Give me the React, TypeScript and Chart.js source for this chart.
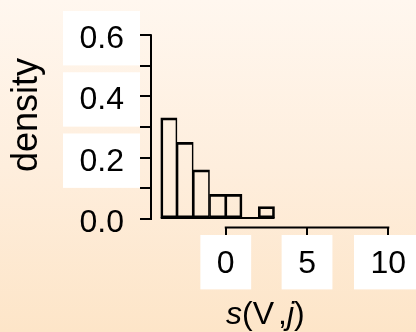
import React, { useEffect, useRef } from 'react';
import { Chart, registerables } from 'chart.js';

Chart.register(...registerables);

// ---- data ----
const binCenters = [-3.5, -2.5, -1.5, -0.5, 0.5, 1.5, 2.5];
const binWidth = 1;
const densities = [0.33, 0.25, 0.16, 0.08, 0.08, 0, 0.04];
const yTicks = [0, 0.1, 0.2, 0.3, 0.4, 0.5, 0.6];
const yLabeled = [0, 0.2, 0.4, 0.6];
const xTicks = [0, 5, 10];
const yTitle = 'density';
const xTitleParts: [string, boolean][] = [
  ['s', true],
  ['(V', false],
  [',', false],
  ['j', true],
  [')', false],
];

const FONT = "'Liberation Sans', Arial, Helvetica, sans-serif";

export default function App() {
  const ref = useRef<HTMLCanvasElement>(null);

  useEffect(() => {
    document.body.style.margin = '0';
    const canvas = ref.current!;
    const last = densities.length - 1;
    const sideW = (i: number, dir: number) => {
      const n = i + dir;
      return n < 0 || n > last || densities[n] === 0 ? 2 : 1;
    };

    const axesPlugin = {
      id: 'rStyleAxes',
      afterDatasetsDraw(chart: any) {
        const { ctx, chartArea, scales } = chart;
        const x = scales.x;
        const y = scales.y;
        ctx.save();
        ctx.strokeStyle = '#000';
        ctx.lineWidth = 2;
        ctx.lineCap = 'butt';
        // histogram baseline (covers empty bins)
        const by = Math.round(y.getPixelForValue(0)) - 1;
        ctx.beginPath();
        ctx.moveTo(x.getPixelForValue(binCenters[0] - binWidth / 2), by);
        ctx.lineTo(x.getPixelForValue(binCenters[last] + binWidth / 2), by);
        ctx.stroke();
        // y axis line
        const yl = chartArea.left;
        ctx.beginPath();
        ctx.moveTo(yl, y.getPixelForValue(yTicks[0]) + 1);
        ctx.lineTo(yl, y.getPixelForValue(yTicks[yTicks.length - 1]) - 1);
        ctx.stroke();
        // x axis line
        const xb = chartArea.bottom;
        ctx.beginPath();
        ctx.moveTo(x.getPixelForValue(xTicks[0]) - 1, xb);
        ctx.lineTo(x.getPixelForValue(xTicks[xTicks.length - 1]) + 1, xb);
        ctx.stroke();

        // y title
        ctx.fillStyle = '#000';
        ctx.save();
        ctx.font = `36px ${FONT}`;
        ctx.translate(27, 115);
        ctx.rotate(-Math.PI / 2);
        ctx.textAlign = 'center';
        ctx.textBaseline = 'middle';
        ctx.fillText(yTitle, 0, 0);
        ctx.restore();

        // x title with italic parts
        ctx.save();
        ctx.textAlign = 'left';
        ctx.textBaseline = 'alphabetic';
        let cx = 226;
        const base = 323.5;
        xTitleParts.forEach(([t, it], i) => {
          ctx.font = `${it ? 'italic ' : ''}32px ${FONT}`;
          ctx.fillText(t, cx, base);
          cx += ctx.measureText(t).width + (i === 1 ? 4 : 0);
        });
        ctx.restore();
        ctx.restore();
      },
    };

    const chart = new Chart(canvas, {
      type: 'bar',
      data: {
        datasets: [
          {
            data: binCenters.map((x, i) => ({ x, y: densities[i] })),
            backgroundColor: 'rgba(0,0,0,0)',
            borderColor: '#000',
            borderWidth: (c: any) => ({
              top: 2,
              bottom: 2,
              left: sideW(c.dataIndex, -1),
              right: sideW(c.dataIndex, 1),
            }),
            borderSkipped: false,
            barPercentage: 1,
            categoryPercentage: 1,
          } as any,
        ],
      },
      options: {
        responsive: false,
        animation: false,
        events: [],
        layout: { padding: { top: 29.3, right: 27.7, left: 0, bottom: 0 } },
        plugins: {
          legend: { display: false },
          tooltip: { enabled: false },
          title: { display: false },
        },
        scales: {
          x: {
            type: 'linear',
            min: -4.6,
            max: 10,
            offset: false,
            bounds: 'data',
            grid: {
              offset: false,
              drawOnChartArea: false,
              drawTicks: true,
              tickLength: 10,
              color: '#000',
              lineWidth: 2,
            },
            border: { display: false },
            afterBuildTicks: (s: any) => {
              s.ticks = xTicks.map((v) => ({ value: v }));
            },
            afterFit: (s: any) => {
              s.height = 104.5;
            },
            ticks: {
              autoSkip: false,
              maxRotation: 0,
              minRotation: 0,
              padding: 7,
              color: '#000',
              font: { family: FONT, size: 32 },
              callback: (v: any) => String(v),
              showLabelBackdrop: true,
              backdropColor: '#fff',
              backdropPadding: { top: 9.5, bottom: 6.5, left: 16.5, right: 16.5 },
            },
          },
          y: {
            type: 'linear',
            min: -0.028,
            max: 0.6,
            bounds: 'data',
            grid: {
              drawOnChartArea: false,
              drawTicks: true,
              tickLength: 11,
              color: '#000',
              lineWidth: 2,
            },
            border: { display: false },
            afterBuildTicks: (s: any) => {
              s.ticks = yTicks.map((v) => ({ value: v }));
            },
            afterFit: (s: any) => {
              s.width = 151;
            },
            ticks: {
              autoSkip: false,
              padding: 16,
              labelOffset: 4,
              color: '#000',
              font: { family: FONT, size: 32 },
              callback: (v: any) => (yLabeled.includes(v) ? Number(v).toFixed(1) : ''),
              showLabelBackdrop: true,
              backdropColor: (c: any) =>
                c.tick && c.tick.label !== '' && c.tick.value !== 0 ? '#fff' : 'rgba(0,0,0,0)',
              backdropPadding: { top: 9, bottom: 7, left: 16.5, right: 16 },
            },
          },
        } as any,
      },
      plugins: [axesPlugin],
    });
    return () => chart.destroy();
  }, []);

  return (
    <div
      style={{
        position: 'fixed',
        left: 0,
        top: 0,
        width: 416,
        height: 332,
        background: 'linear-gradient(to bottom, #FFF7EF 0%, #FEEEDD 50%, #FDE5C8 100%)',
      }}
    >
      <canvas ref={ref} width={416} height={332} style={{ display: 'block' }} />
    </div>
  );
}
